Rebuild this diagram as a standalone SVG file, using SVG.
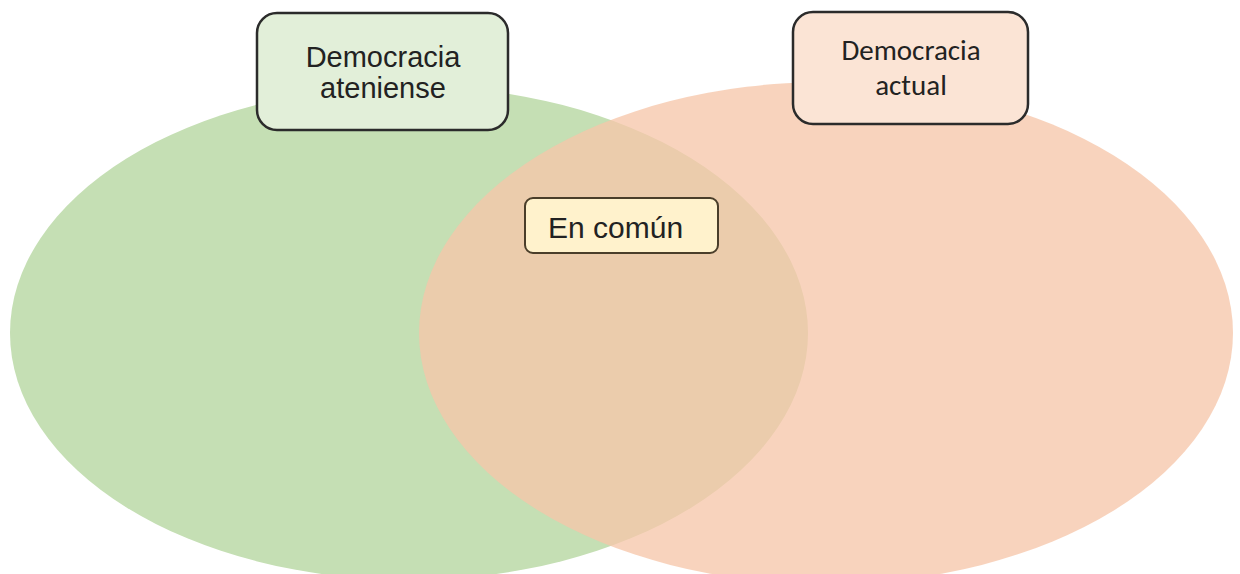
<svg xmlns="http://www.w3.org/2000/svg" width="1240" height="574" viewBox="0 0 1240 574">
<style>
.lbl{font-family:"Liberation Sans",Arial,sans-serif;fill:#222;}
.cal{font-family:Carlito,Lato,"Liberation Sans",sans-serif;fill:#222;}
.box{stroke:#2b2b2b;stroke-width:2.5;}
</style>
<rect width="1240" height="574" fill="#ffffff"/>
<g id="venn-atenas">
<ellipse cx="409" cy="333" rx="399" ry="247" fill="#c5dfb4"/>
</g>
<g id="venn-actual">
<ellipse cx="826" cy="333" rx="407" ry="251" fill="#f6c6a9" fill-opacity="0.77"/>
</g>
<g id="connectors"></g>
<g id="node-ateniense">
<rect class="box" x="257" y="13" width="251" height="117" rx="20" fill="#e2efd9"/>
<text class="lbl" x="383" y="67" font-size="29" text-anchor="middle">Democracia</text>
<text class="lbl" x="383" y="98" font-size="29" text-anchor="middle">ateniense</text>
</g>
<g id="node-actual">
<rect class="box" x="793" y="12" width="235" height="112" rx="20" fill="#fbe4d5"/>
<text class="cal" x="911" y="60" font-size="29" text-anchor="middle">Democracia</text>
<text class="cal" x="911" y="95" font-size="29" text-anchor="middle">actual</text>
</g>
<g id="node-comun">
<rect x="525" y="198" width="193" height="55" rx="8" fill="#fff2cc" stroke="#4a3e2a" stroke-width="2"/>
<text class="lbl" x="548" y="238" font-size="30">En común</text>
</g>
</svg>
